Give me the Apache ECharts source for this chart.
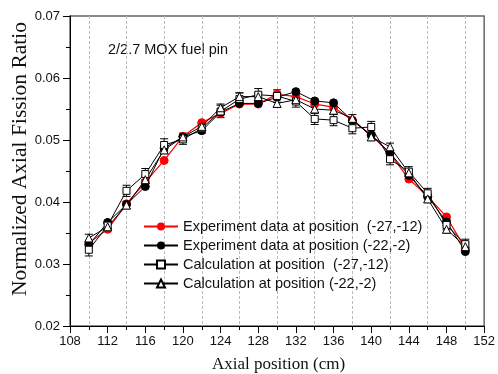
<!DOCTYPE html>
<html>
<head>
<meta charset="utf-8">
<script src="https://cdn.jsdelivr.net/npm/echarts@6/dist/echarts.min.js"></script>
<style>html,body{margin:0;padding:0;background:#fff;}#c{width:498px;height:374px;}</style>
</head>
<body>
<div id="c"></div>
<script>
const positions = [110,112,114,116,118,120,122,124,126,128,130,132,134,136,138,140,142,144,146,148,150];
const expA = [0.0334,0.0356,0.0397,0.0432,0.0467,0.0506,0.0528,0.0543,0.0558,0.0558,0.0574,0.0570,0.0558,0.0553,0.0532,0.0508,0.0478,0.0437,0.0409,0.0376,0.0325];
const expB = [0.0331,0.0367,0.0396,0.0425,0.0487,0.0505,0.0515,0.0545,0.0559,0.0559,0.0569,0.0578,0.0563,0.0560,0.0531,0.0508,0.0479,0.0443,0.0409,0.0368,0.0320];
const calcA = [0.0323,0.0362,0.0418,0.0445,0.0492,0.0501,0.0519,0.0546,0.0566,0.0573,0.0571,0.0562,0.0534,0.0532,0.0519,0.0521,0.0469,0.0449,0.0414,0.0363,0.0332];
const calcB = [0.0342,0.0360,0.0395,0.0436,0.0484,0.0505,0.0522,0.0552,0.0570,0.0570,0.0559,0.0565,0.0550,0.0548,0.0535,0.0505,0.0489,0.0447,0.0405,0.0356,0.0328];
const errA = [0.0010,0.0007,0.0009,0.0009,0.0010,0.0008,0.0008,0.0010,0.0010,0.0010,0.0010,0.0009,0.0009,0.0009,0.0009,0.0009,0.0009,0.0008,0.0008,0.0008,0.0008];
const errB = [0.0006,0.0005,0.0006,0.0006,0.0006,0.0006,0.0006,0.0006,0.0006,0.0006,0.0006,0.0006,0.0006,0.0006,0.0006,0.0006,0.0006,0.0006,0.0006,0.0006,0.0006];
const names = ['Experiment data at position  (-27,-12)','Experiment data at position (-22,-2)','Calculation at position  (-27,-12)','Calculation at position (-22,-2)'];
const xTicks = [108,112,116,120,124,128,132,136,140,144,148,152];
const yTicks = [0.02,0.03,0.04,0.05,0.06,0.07];
const xTitle = 'Axial position (cm)';
const yTitle = 'Normalized Axial Fission Ratio';
const note = '2/2.7 MOX fuel pin';

const pairs = ys => positions.map((x,i)=>[x, ys[i]]);
const errData = (ys, es) => positions.map((x,i)=>[x, ys[i], es[i]]);

function errRender(params, api){
  const x = api.value(0), y = api.value(1), e = api.value(2);
  const top = api.coord([x, y + e]);
  const bot = api.coord([x, y - e]);
  const w = 4;
  const st = {stroke:'#000', lineWidth:1};
  return {type:'group', children:[
    {type:'line', shape:{x1:top[0],y1:top[1],x2:bot[0],y2:bot[1]}, style:st},
    {type:'line', shape:{x1:top[0]-w,y1:top[1],x2:top[0]+w,y2:top[1]}, style:st},
    {type:'line', shape:{x1:bot[0]-w,y1:bot[1],x2:bot[0]+w,y2:bot[1]}, style:st}
  ]};
}

const serif = 'Liberation Serif, Times New Roman, serif';
const sans = 'Liberation Sans, Arial, sans-serif';
const chart = echarts.init(document.getElementById('c'));
chart.setOption({
  animation:false,
  textStyle:{fontFamily:sans},
  grid:{left:70, right:11, top:16, bottom:48, show:true, borderColor:'#666', borderWidth:1.5, backgroundColor:'transparent'},
  xAxis:{
    type:'value', min:xTicks[0], max:xTicks[xTicks.length-1], interval:4,
    axisLine:{lineStyle:{color:'#000', width:1}},
    axisTick:{show:true, length:7, lineStyle:{color:'#000'}},
    minorTick:{show:true, splitNumber:2, length:4, lineStyle:{color:'#000'}},
    splitLine:{show:false},
    minorSplitLine:{show:true, lineStyle:{color:'#bbb', type:[3,2], width:1}},
    axisLabel:{fontSize:13, color:'#111', margin:9}
  },
  yAxis:{
    type:'value', min:yTicks[0], max:yTicks[yTicks.length-1], interval:0.01,
    axisLine:{show:true, lineStyle:{color:'#000', width:1}},
    axisTick:{show:true, length:7, lineStyle:{color:'#000'}},
    minorTick:{show:true, splitNumber:2, length:4, lineStyle:{color:'#000'}},
    splitLine:{show:false},
    axisLabel:{fontSize:13, color:'#111', margin:10, formatter:v=>v.toFixed(2)}
  },
  legend:{
    orient:'vertical', left:138, top:214, itemWidth:34, itemHeight:10, itemGap:4,
    textStyle:{fontSize:14.5, lineHeight:14, color:'#111', fontFamily:sans},
    data:names
  },
  graphic:[
    {type:'text', left:108, top:42, style:{text:note, fontSize:14.5, fill:'#111', fontFamily:sans}},
    {type:'text', x:278.5, y:365, style:{text:xTitle, fontSize:17, fill:'#111', fontFamily:serif, align:'center', verticalAlign:'middle'}},
    {type:'text', x:20, y:159, rotation:Math.PI/2, style:{text:yTitle, fontSize:21.5, fill:'#111', fontFamily:serif, align:'center', verticalAlign:'middle'}}
  ],
  series:[
    {type:'custom', renderItem:errRender, data:errData(calcA, errA), z:3, silent:true, encode:{x:0,y:1}},
    {type:'custom', renderItem:errRender, data:errData(calcB, errB), z:3, silent:true, encode:{x:0,y:1}},
    {name:names[0], type:'line', data:pairs(expA), symbol:'circle', symbolSize:8, z:4,
     lineStyle:{color:'#ff0000', width:1.2}, itemStyle:{color:'#ff0000', borderColor:'#ff0000'}},
    {name:names[1], type:'line', data:pairs(expB), symbol:'circle', symbolSize:8, z:5,
     lineStyle:{color:'#000', width:1}, itemStyle:{color:'#000', borderColor:'#000'}},
    {name:names[2], type:'line', data:pairs(calcA), symbol:'rect', symbolSize:7, z:6,
     lineStyle:{color:'#000', width:1}, itemStyle:{color:'#fff', borderColor:'#000', borderWidth:1}},
    {name:names[3], type:'line', data:pairs(calcB), symbol:'triangle', symbolSize:8, z:6,
     lineStyle:{color:'#000', width:1}, itemStyle:{color:'#fff', borderColor:'#000', borderWidth:1}}
  ]
});
</script>
</body>
</html>
